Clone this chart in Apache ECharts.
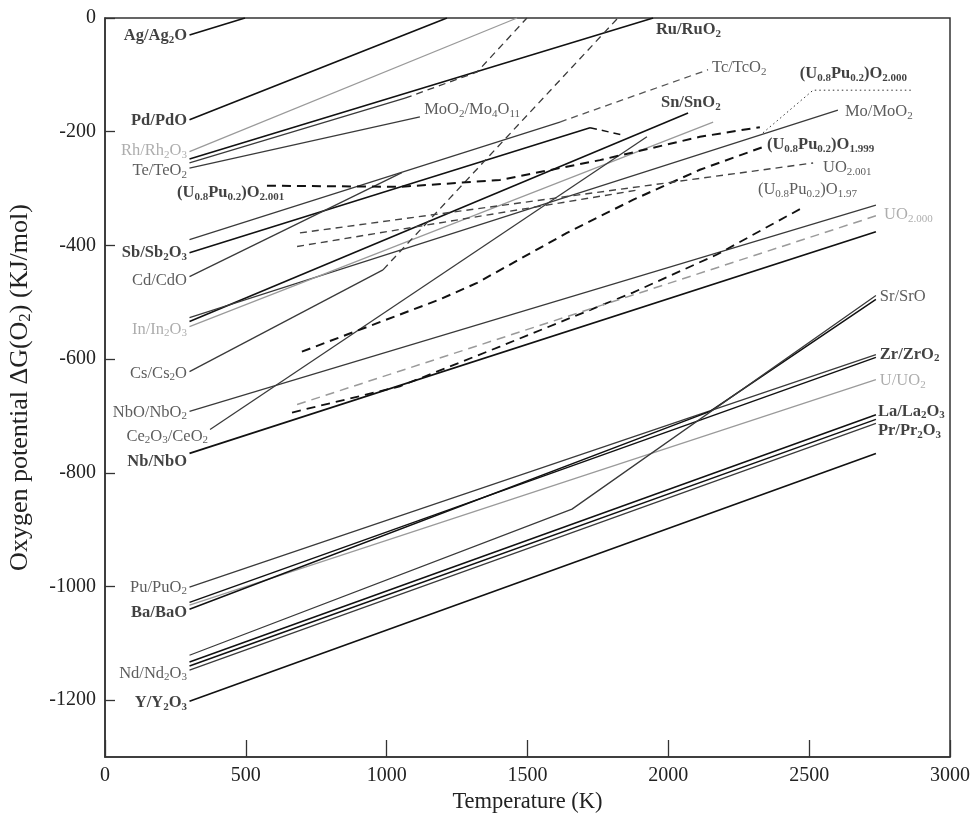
<!DOCTYPE html>
<html><head><meta charset="utf-8">
<script src="https://cdn.jsdelivr.net/npm/echarts@6/dist/echarts.min.js"></script>
<style>html,body{margin:0;padding:0;background:#fff}#c{width:979px;height:814px}</style>
</head><body><div id="c"></div>
<script>
// ---------- axis ticks ----------
const xTicks = [0, 500, 1000, 1500, 2000, 2500, 3000];
const yTicks = [-1200, -1000, -800, -600, -400, -200, 0];

// ---------- curves: [T (K), dG (kJ/mol)] ----------
const agAg2O = [[300, -30], [497, 0]];
const pdPdO = [[300, -179], [1214, 0]];
const rhRh2O3 = [[300, -235], [1463, 0]];
const ruRuO2 = [[300, -248], [1946, 0]];
const teTeO2 = [[300, -255], [1065, -141]];
const teTeO2High = [[1065, -141], [1321, -95], [1498, 0]];
const moO2Mo4O11 = [[300, -264], [1118, -174]];
const tcTcO2 = [[300, -390], [1615, -183]];
const tcTcO2High = [[1615, -183], [2141, -91]];
const sbSb2O3 = [[300, -413], [1722, -193]];
const sbSb2O3High = [[1722, -193], [1839, -206]];
const cdCdO = [[300, -455], [1054, -272]];
const snSnO2 = [[300, -534], [2070, -167]];
const moMoO2 = [[300, -527], [2602, -162]];
const inIn2O3 = [[300, -543], [2159, -183]];
const csCs2O = [[300, -622], [987, -443]];
const csCs2OHigh = [[987, -443], [1821, 0]];
const nbONbO2 = [[300, -692], [2737, -329]];
const ce2O3CeO2 = [[373, -724], [1924, -209]];
const nbNbO = [[300, -766], [2737, -376]];
const puPuO2 = [[300, -1001], [2737, -592]];
const zrZrO2 = [[300, -1028], [2737, -597]];
const uUO2 = [[300, -1033], [2737, -636]];
const baBaO = [[300, -1040], [2148, -692], [2737, -495]];
const srSrO = [[300, -1121], [1658, -864], [2737, -488]];
const laLa2O3 = [[300, -1133], [2737, -698]];
const prPr2O3 = [[300, -1140], [2737, -706]];
const ndNd2O3 = [[300, -1147], [2737, -713]];
const yY2O3 = [[300, -1202], [2737, -766]];

// fuel oxygen potentials
const upuO2001 = [[575, -295], [1047, -297], [1402, -285], [1757, -250], [2112, -209], [2325, -192]];
const upuO1999 = [[699, -587], [1189, -495], [1321, -466], [1640, -378], [1874, -320], [2112, -267], [2336, -227]];
const uO2001 = [[692, -378], [2514, -255]];
const fuelExtra = [[682, -402], [1899, -302]];
const upuO197 = [[664, -694], [1047, -648], [1402, -578], [1874, -483], [2173, -416], [2475, -334]];
const uO2000 = [[682, -680], [2737, -348]];
const leaderO2000 = [[2336, -202], [2514, -127], [2868, -127]];

// ---------- labels ----------
const labelTexts = [
 'Ag/Ag{s|2}O','Pd/PdO','Rh/Rh{s|2}O{s|3}','Te/TeO{s|2}','(U{s|0.8}Pu{s|0.2})O{s|2.001}',
 'Sb/Sb{s|2}O{s|3}','Cd/CdO','In/In{s|2}O{s|3}','Cs/Cs{s|2}O','NbO/NbO{s|2}','Ce{s|2}O{s|3}/CeO{s|2}',
 'Nb/NbO','Pu/PuO{s|2}','Ba/BaO','Nd/Nd{s|2}O{s|3}','Y/Y{s|2}O{s|3}',
 'Ru/RuO{s|2}','MoO{s|2}/Mo{s|4}O{s|11}','Tc/TcO{s|2}','(U{s|0.8}Pu{s|0.2})O{s|2.000}','Sn/SnO{s|2}',
 'Mo/MoO{s|2}','(U{s|0.8}Pu{s|0.2})O{s|1.999}','UO{s|2.001}','(U{s|0.8}Pu{s|0.2})O{s|1.97}','UO{s|2.000}',
 'Sr/SrO','Zr/ZrO{s|2}','U/UO{s|2}','La/La{s|2}O{s|3}','Pr/Pr{s|2}O{s|3}'
];
const labelAt = [
 [291,-32],[291,-181],[291,-234],[291,-269],[256,-308],
 [291,-413],[291,-462],[291,-548],[291,-625],[291,-694],[366,-736],
 [291,-780],[291,-1002],[291,-1047],[291,-1153],[291,-1205],
 [1956,-21],[1133,-162],[2155,-88],[2467,-98],[1974,-149],
 [2627,-165],[2350,-223],[2549,-264],[2318,-302],[2766,-346],
 [2751,-490],[2751,-592],[2751,-638],[2744,-692],[2744,-726]
];
const labelKind = [
 'b','b','g','n','b','b','n','g','n','n','n','b','n','b','n','b',
 'b','n','n','b','b','n','b','n','n','g','n','b','g','b','b'
];
const labelSide = [
 'L','L','L','L','R','L','L','L','L','L','L','L','L','L','L','L',
 'R','R','R','R','R','R','R','R','R','R','R','R','R','R','R'
];

const BLACK = '#111', DARK = '#3a3a3a', GRAY = '#9a9a9a';
const FONT = '"Liberation Serif","Times New Roman",serif';

function line(name, data, color, width, type) {
  return { name, type: 'line', data, symbol: 'none', silent: true, animation: false,
    lineStyle: { color, width, type: type || 'solid', cap: 'butt' }, z: 3 };
}
const dashB = [9, 6], dashT = [7, 5], dotted = [1.5, 3];

const series = [
  line('Ag', agAg2O, BLACK, 1.7), line('Pd', pdPdO, BLACK, 1.7), line('Rh', rhRh2O3, GRAY, 1.3),
  line('Ru', ruRuO2, BLACK, 1.6), line('Te', teTeO2, DARK, 1.3), line('Te2', teTeO2High, DARK, 1.3, dashT),
  line('MoO2', moO2Mo4O11, DARK, 1.3), line('Tc', tcTcO2, DARK, 1.3), line('Tc2', tcTcO2High, '#555', 1.3, dashT),
  line('Sb', sbSb2O3, BLACK, 1.6), line('Sb2', sbSb2O3High, BLACK, 1.5, dashT), line('Cd', cdCdO, DARK, 1.3),
  line('Sn', snSnO2, BLACK, 1.6), line('Mo', moMoO2, DARK, 1.3), line('In', inIn2O3, GRAY, 1.3),
  line('Cs', csCs2O, DARK, 1.3), line('Cs2', csCs2OHigh, DARK, 1.3, dashT),
  line('NbO', nbONbO2, DARK, 1.3), line('Ce', ce2O3CeO2, DARK, 1.3), line('Nb', nbNbO, BLACK, 1.8),
  line('Pu', puPuO2, DARK, 1.3), line('Zr', zrZrO2, BLACK, 1.5), line('U', uUO2, GRAY, 1.3),
  line('Ba', baBaO, BLACK, 1.5), line('Sr', srSrO, DARK, 1.3), line('La', laLa2O3, BLACK, 1.5),
  line('Pr', prPr2O3, BLACK, 1.5), line('Nd', ndNd2O3, DARK, 1.3), line('Y', yY2O3, BLACK, 1.7),
  line('UPu2001', upuO2001, BLACK, 2, dashB), line('UPu1999', upuO1999, BLACK, 2, dashB),
  line('UO2001', uO2001, '#444', 1.4, dashT), line('fuelX', fuelExtra, '#444', 1.4, dashT),
  line('UPu197', upuO197, BLACK, 1.8, dashB), line('UO2000', uO2000, GRAY, 1.5, dashB),
  line('leader', leaderO2000, '#333', 1, dotted)
];

const kindStyle = {
  b: { color: '#111', fontWeight: 'bold' },
  n: { color: '#333', fontWeight: 'normal' },
  g: { color: '#999', fontWeight: 'normal' }
};
const labelData = labelTexts.map((t, i) => ({
  value: labelAt[i],
  label: {
    show: true, formatter: t, position: 'inside',
    align: labelSide[i] === 'L' ? 'right' : 'left', verticalAlign: 'middle',
    fontFamily: FONT, fontSize: 16.5, lineHeight: 19,
    color: kindStyle[labelKind[i]].color, fontWeight: kindStyle[labelKind[i]].fontWeight,
    rich: { s: { fontSize: 11, lineHeight: 11, verticalAlign: 'bottom',
      color: kindStyle[labelKind[i]].color, fontWeight: kindStyle[labelKind[i]].fontWeight, fontFamily: FONT } }
  }
}));
series.push({ name: 'labels', type: 'scatter', data: labelData, symbolSize: 0, silent: true, animation: false, z: 5 });

const chart = echarts.init(document.getElementById('c'), null, { renderer: 'canvas' });
chart.setOption({
  backgroundColor: '#fff',
  animation: false,
  grid: { left: 105, top: 18, right: 29, bottom: 57, show: true, borderColor: '#333', borderWidth: 1.5,
    containLabel: false, outerBoundsMode: 'none' },
  xAxis: {
    type: 'value', min: 0, max: 3000, interval: 500,
    name: 'Temperature (K)', nameLocation: 'middle', nameGap: 34,
    nameTextStyle: { fontFamily: FONT, fontSize: 22.5, color: '#222' },
    axisLine: { onZero: false, lineStyle: { color: '#333', width: 1.5 } },
    axisTick: { inside: true, length: 17, lineStyle: { color: '#333', width: 1.3 }, customValues: xTicks },
    axisLabel: { fontFamily: FONT, fontSize: 20, color: '#222', margin: 9, customValues: xTicks,
      formatter: v => String(v) },
    splitLine: { show: false }
  },
  yAxis: {
    type: 'value', min: -1300, max: 0,
    name: 'Oxygen potential ΔG(O{s|2}) (KJ/mol)', nameLocation: 'middle', nameGap: 71, nameRotate: 90,
    nameTextStyle: { fontFamily: FONT, fontSize: 26, color: '#222', lineHeight: 27,
      rich: { s: { fontSize: 17, lineHeight: 17, verticalAlign: 'bottom', fontFamily: FONT, color: '#222' } } },
    axisLine: { onZero: false, lineStyle: { color: '#333', width: 1.5 } },
    axisTick: { inside: true, length: 10, lineStyle: { color: '#333', width: 1.3 }, customValues: yTicks },
    axisLabel: { fontFamily: FONT, fontSize: 20, color: '#222', margin: 9, customValues: yTicks,
      formatter: v => String(v) },
    splitLine: { show: false }
  },
  series
});
</script>
</body></html>
